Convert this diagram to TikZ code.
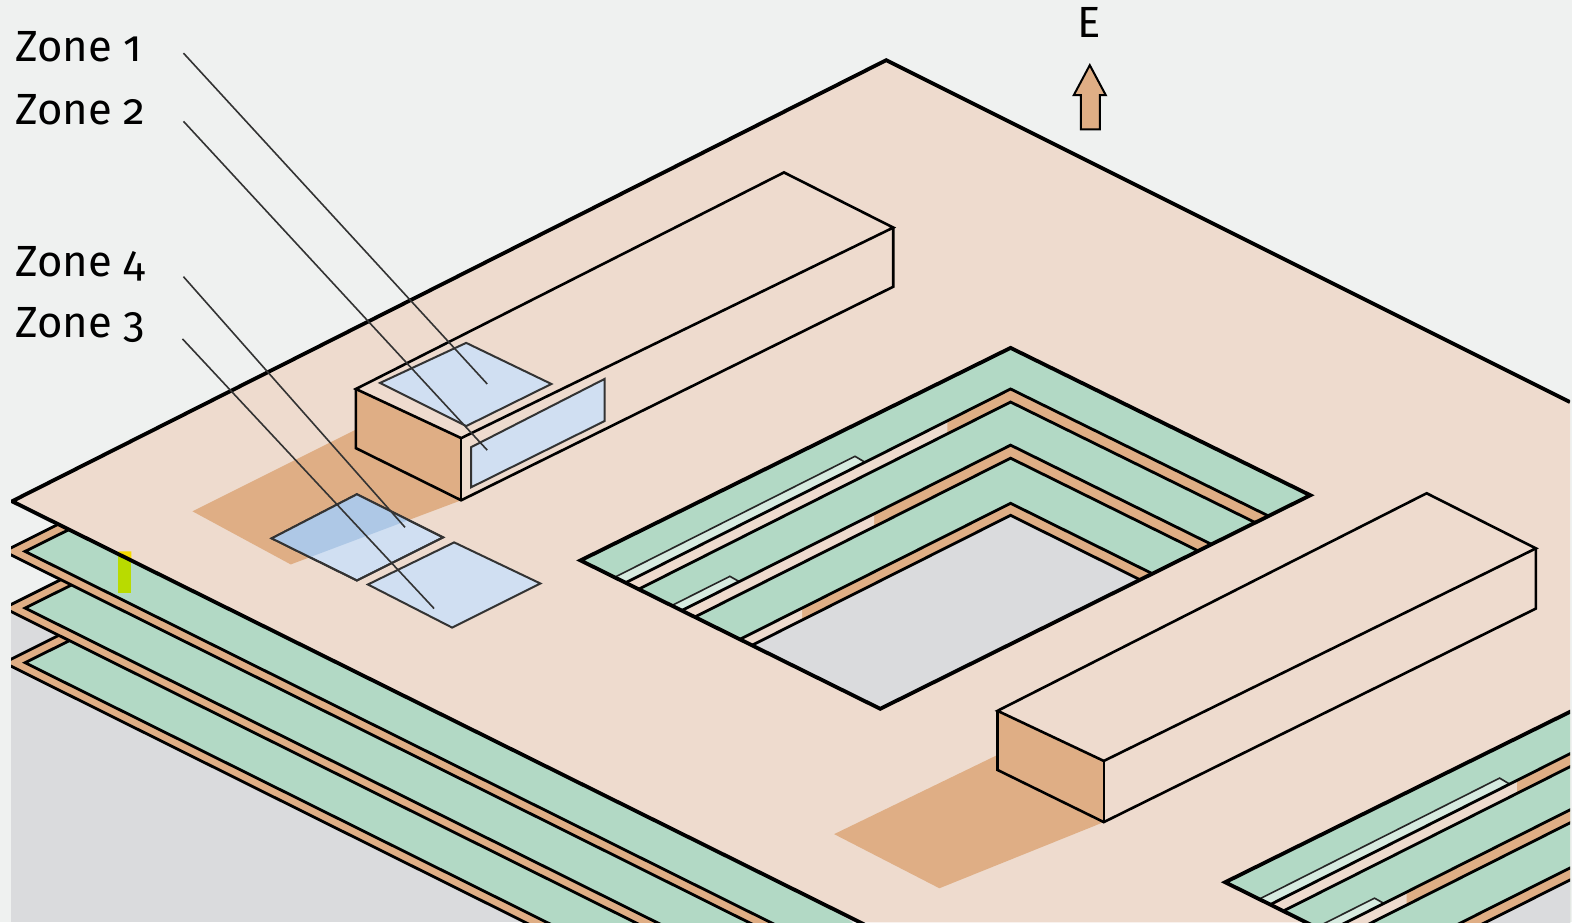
\documentclass[tikz,border=0pt]{standalone}
\usepackage{fontspec}
\setmainfont{Fira Sans}[Numbers=OldStyle]
\definecolor{bgc}{HTML}{EFF1F0}
\definecolor{plate}{HTML}{EEDBCE}
\definecolor{tanc}{HTML}{DFAE85}
\definecolor{greenc}{HTML}{B2D9C5}
\definecolor{paleg}{HTML}{D7EBE0}
\definecolor{grayc}{HTML}{DADBDD}
\definecolor{bluec}{HTML}{D0DFF2}
\definecolor{dblue}{HTML}{AEC8E6}
\definecolor{leader}{HTML}{333333}
\tikzset{
  thickedge/.style={draw=black,line width=3.8pt,line join=miter},
  midedge/.style={draw=black,line width=2.8pt,line join=miter},
  boxedge/.style={draw=black,line width=2.6pt,line join=miter},
  windowbox/.style={fill=bluec,draw=leader,line width=2pt,line join=miter},
  stripedge/.style={draw=black!85,line width=1.6pt,line join=miter},
  leaderline/.style={draw=leader,line width=1.6pt},
  zonelabel/.style={anchor=base west,inner sep=0pt,font=\fontsize{43.5}{43.5}\selectfont,text=black},
}
% points of a chevron at depth #1 within the hole
\newcommand{\apx}[1]{(1008,{347+#1})}
\newcommand{\rgt}[1]{({1307-1.019*#1},{494+0.5036*#1})}
\newcommand{\lft}[1]{({583+1.0*#1},{559+0.495*(4+#1)})}
\newcommand{\onarm}[2]{({#2},{347+#1+(1008-(#2))/(1008-583-#1)*(559+0.495*(4+#1)-347-#1)})}
\newcommand{\holeshape}[3]{%
  \fill[greenc] (1008,347)--(1307,494)--(878,707)--(579,559)--cycle;
  \fill[paleg] \lft{30}--\onarm{30}{852.8}--\onarm{41}{862.8}--\lft{41}--cycle;
  \draw[stripedge] \lft{30}--\onarm{30}{852.8}--\onarm{41}{862.8};
  \fill[paleg] \lft{87}--\onarm{87}{728}--\onarm{97}{737.4}--\lft{97}--cycle;
  \draw[stripedge] \lft{87}--\onarm{87}{728}--\onarm{97}{737.4};
  \fill[grayc] \apx{167}--\rgt{167}--(878,707)--\lft{167}--cycle;
  \foreach \du/\dl/\cut in {41/54/#1,97/110/#2,155/167/#3}{
    \fill[tanc] \apx{\du}--\rgt{\du}--\rgt{\dl}--\apx{\dl}--\lft{\dl}--\lft{\du}--cycle;
    \fill[plate] \lft{\du}--\onarm{\du}{\cut}--\onarm{\dl}{\cut}--\lft{\dl}--cycle;
    \draw[midedge] \lft{\du}--\apx{\du}--\rgt{\du};
    \draw[midedge] \lft{\dl}--\apx{\dl}--\rgt{\dl};
  }
  \draw[thickedge] (1008,347)--(1307,494)--(878,707)--(579,559)--cycle;
}
\newcommand{\layer}[1]{%
  \fill[tanc] (4,#1)--(164,{#1-80})--(1100,{#1+546})--cycle;
  \draw[midedge] (164,{#1-80})--(4,#1)--(1100,{#1+546});
  \fill[greenc] (25,#1)--(176,{#1-75})--(1100,{#1+535})--cycle;
  \draw[midedge] (176,{#1-75})--(25,#1)--(1100,{#1+535});
}
\begin{document}
\begin{tikzpicture}[x=1pt,y=-1pt]
\useasboundingbox (0,0) rectangle (1568,920);
\fill[bgc] (0,0) rectangle (1568,920);
\begin{scope}
\clip (11,0) rectangle (1566,920);
\fill[grayc] (11,612) rectangle (1566,920);
\layer{661}
\layer{606.5}
\layer{550}
% marker
\fill[fill={rgb,255:red,185;green,219;blue,0}] (118,550) rectangle (131,591);
% plate
\fill[plate] (12,500)--(884,60)--(1566,401)--(1566,920)--(858,920)--cycle;
\fill[fill={rgb,255:red,247;green,220;blue,0}] (118,550)--(131,550)--(131,560)--(118,553.5)--cycle;
\draw[thickedge] (1566,401)--(884,60)--(12,500)--(862,922);
% hole 1
\holeshape{945}{872}{800}
% hole 2
\begin{scope}[shift={(643,321)}]
\holeshape{870}{760}{810}
\end{scope}
% shadows
\fill[tanc] (192,510)--(356,428)--(356,447)--(460,499)--(290,563)--cycle;
\fill[tanc] (832,832)--(995,753)--(995,768)--(1101,820)--(937,886)--cycle;
% box 1
\fill[plate] (355,388)--(782,172)--(891,227)--(891,286)--(460,499)--(460,437)--cycle;
\fill[tanc] (355,388)--(460,437)--(460,499)--(355,447)--cycle;
\draw[boxedge] (355,388)--(782,172)--(891,227)--(460,437)--cycle;
\draw[boxedge] (891,227)--(891,286)--(460,499)--(355,447)--(355,388);
\draw[boxedge] (460,437)--(460,499);
% box 2
\fill[plate] (995,709)--(1423,492)--(1532,547)--(1532,607)--(1101,820)--(1101,759)--cycle;
\fill[tanc] (995,709)--(1101,759)--(1101,820)--(995,768)--cycle;
\draw[boxedge] (995,709)--(1423,492)--(1532,547)--(1101,759)--cycle;
\draw[boxedge] (1532,547)--(1532,607)--(1101,820)--(995,768)--(995,709);
\draw[boxedge] (1101,759)--(1101,820);
% windows
\draw[windowbox] (379,382)--(465,342)--(550,383)--(465,425)--cycle;
\draw[windowbox] (470,446)--(603,378)--(603,420)--(470,486)--cycle;
\draw[windowbox] (271,537)--(356,493)--(442,536)--(356,579)--cycle;
\begin{scope}
\clip (271,537)--(356,493)--(442,536)--(356,579)--cycle;
\fill[dblue] (192,510)--(356,428)--(356,447)--(460,499)--(290,563)--cycle;
\end{scope}
\draw[windowbox,fill=none] (271,537)--(356,493)--(442,536)--(356,579)--cycle;
\draw[windowbox] (367,583)--(453,541)--(539,582)--(451,626)--cycle;
\end{scope}
% labels
\node[zonelabel] (z1) at (15,61.5) {Zone 1};
\node[zonelabel] (z2) at (15,124.5) {Zone 2};
\node[zonelabel] (z4) at (15,276) {Zone 4};
\node[zonelabel] (z3) at (15,337) {Zone 3};
\node[zonelabel,anchor=base] (e) at (1086,37) {E};
% leaders
\coordinate (a1) at (183,53); \coordinate (b1) at (486,383);
\coordinate (a2) at (183,121); \coordinate (b2) at (486,449);
\coordinate (a4) at (183,276); \coordinate (b4) at (404,526);
\coordinate (a3) at (182,338); \coordinate (b3) at (433,607);
\draw[leaderline] (a1)--(b1);
\draw[leaderline] (a2)--(b2);
\draw[leaderline] (a4)--(b4);
\draw[leaderline] (a3)--(b3);
% north arrow
\draw[fill=tanc,draw=black,line width=2pt,line join=miter] (1087,65)--(1103,95)--(1097,95)--(1097,129)--(1078,129)--(1078,95)--(1071,95)--cycle;
\end{tikzpicture}
\end{document}
